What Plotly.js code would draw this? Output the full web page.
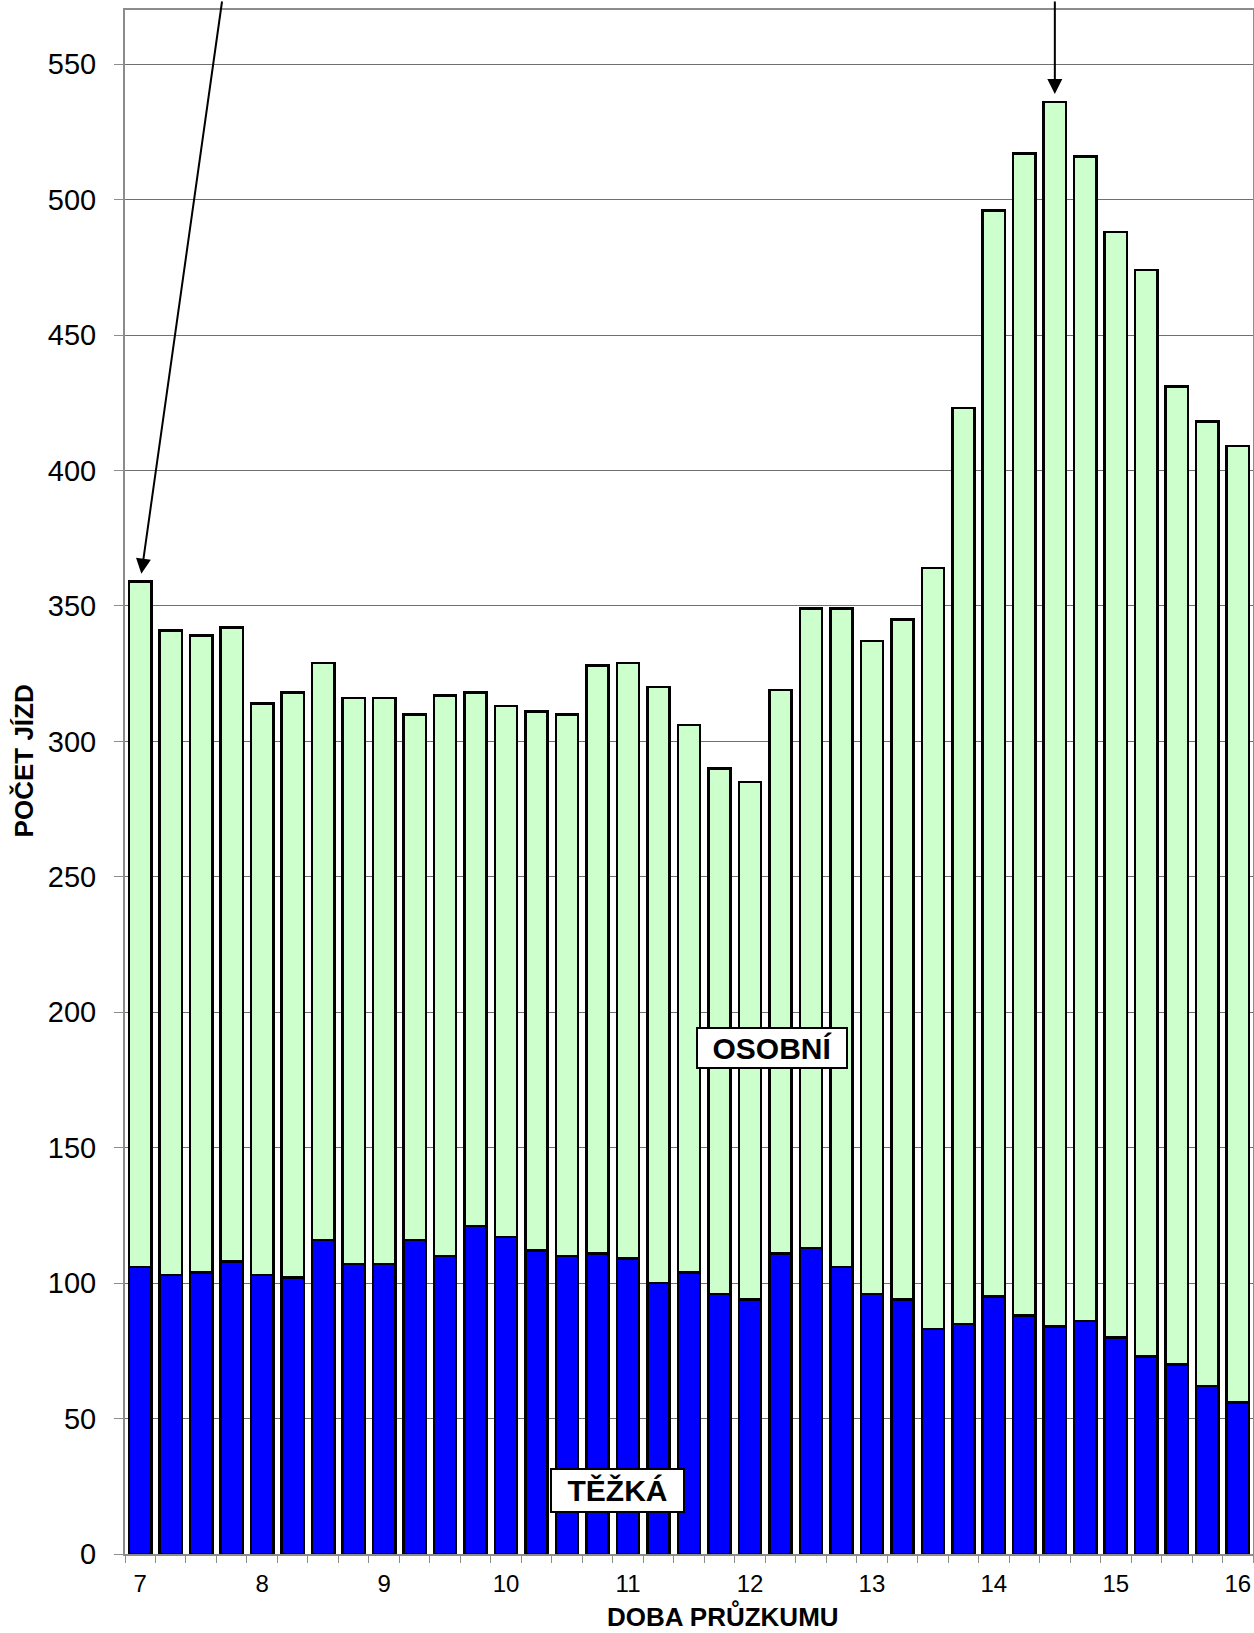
<!DOCTYPE html>
<html>
<head>
<meta charset="utf-8">
<script src="https://cdn.plot.ly/plotly-3.0.1.min.js"></script>
<style>
  html, body { margin: 0; padding: 0; background: #ffffff; }
  #chart { width: 1254px; height: 1633px; }
</style>
</head>
<body>
<div id="chart"></div>
<script>
// Time of survey (hours, 15-minute steps)
const times = [7, 7.25, 7.5, 7.75, 8, 8.25, 8.5, 8.75, 9, 9.25, 9.5, 9.75,
               10, 10.25, 10.5, 10.75, 11, 11.25, 11.5, 11.75, 12, 12.25, 12.5, 12.75,
               13, 13.25, 13.5, 13.75, 14, 14.25, 14.5, 14.75, 15, 15.25, 15.5, 15.75, 16];

// Heavy vehicles (TĚŽKÁ)
const tezka = [106, 103, 104, 108, 103, 102, 116, 107, 107, 116, 110, 121,
               117, 112, 110, 111, 109, 100, 104, 96, 94, 111, 113, 106,
               96, 94, 83, 85, 95, 88, 84, 86, 80, 73, 70, 62, 56];

// Passenger vehicles (OSOBNÍ)
const osobni = [253, 238, 235, 234, 211, 216, 213, 209, 209, 194, 207, 197,
                196, 199, 200, 217, 220, 220, 202, 194, 191, 208, 236, 243,
                241, 251, 281, 338, 401, 429, 452, 430, 408, 401, 361, 356, 353];

// Axis tick labels
const hourTicks = [7, 8, 9, 10, 11, 12, 13, 14, 15, 16];
const hourLabels = ['7', '8', '9', '10', '11', '12', '13', '14', '15', '16'];
const yTicks = [0, 50, 100, 150, 200, 250, 300, 350, 400, 450, 500, 550];

// Peak markers (arrow targets)
const peakTimes = [7, 14.5];
const peakTotals = [359, 536];

const FONT = 'Liberation Sans, Arial, Helvetica, sans-serif';

const traces = [
  {
    type: 'bar',
    name: 'TĚŽKÁ',
    x: times,
    y: tezka,
    marker: { color: '#0000FF', line: { color: '#000000', width: 2.5 } },
    hoverinfo: 'x+y+name'
  },
  {
    type: 'bar',
    name: 'OSOBNÍ',
    x: times,
    y: osobni,
    marker: { color: '#CCFFCC', line: { color: '#000000', width: 2.5 } },
    hoverinfo: 'x+y+name'
  }
];

const layout = {
  width: 1254,
  height: 1633,
  margin: { l: 125, r: 1, t: 10, b: 79, pad: 0 },
  paper_bgcolor: '#ffffff',
  plot_bgcolor: '#ffffff',
  barmode: 'stack',
  bargap: 0.27,
  showlegend: false,
  font: { family: FONT, color: '#000000' },
  xaxis: {
    type: 'linear',
    range: [6.875, 16.125],
    tickmode: 'array',
    tickvals: hourTicks,
    ticktext: hourLabels,
    ticks: '',
    ticklabelstandoff: 7,
    tickfont: { family: FONT, size: 24, color: '#000000' },
    showgrid: false,
    zeroline: false,
    showline: true,
    linecolor: '#8c8c8c',
    linewidth: 2,
    mirror: true,
    minor: {
      tick0: 6.875,
      dtick: 0.25,
      ticks: 'outside',
      ticklen: 7,
      tickwidth: 1,
      tickcolor: '#8c8c8c',
      showgrid: false
    }
  },
  yaxis: {
    range: [0, 570],
    tickmode: 'array',
    tickvals: yTicks,
    ticks: 'outside',
    ticklen: 9,
    tickwidth: 1,
    tickcolor: '#8c8c8c',
    ticklabelstandoff: 12,
    tickfont: { family: FONT, size: 29, color: '#000000' },
    showgrid: true,
    gridcolor: '#707070',
    gridwidth: 1,
    zeroline: false,
    showline: true,
    linecolor: '#8c8c8c',
    linewidth: 2,
    mirror: true
  },
  annotations: [
    {
      xref: 'paper', yref: 'paper',
      x: 0.5298, y: -0.0512,
      xanchor: 'center', yanchor: 'bottom',
      text: '<b>DOBA PRŮZKUMU</b>',
      showarrow: false,
      borderpad: 0,
      font: { family: FONT, size: 26, color: '#000000' }
    },
    {
      xref: 'paper', yref: 'paper',
      x: -0.0892, y: 0.5136,
      xanchor: 'center', yanchor: 'middle',
      textangle: -90,
      text: '<b>POČET JÍZD</b>',
      showarrow: false,
      font: { family: FONT, size: 26, color: '#000000' }
    },
    {
      xref: 'x', yref: 'y',
      x: 12.18, y: 186.8,
      xanchor: 'center', yanchor: 'middle',
      text: '<b>OSOBNÍ</b>',
      showarrow: false,
      width: 148, height: 38,
      bgcolor: '#ffffff',
      bordercolor: '#000000',
      borderwidth: 2,
      borderpad: 0,
      font: { family: FONT, size: 30, color: '#000000' }
    },
    {
      xref: 'x', yref: 'y',
      x: 10.915, y: 23.4,
      xanchor: 'center', yanchor: 'middle',
      text: '<b>TĚŽKÁ</b>',
      showarrow: false,
      width: 131, height: 41,
      bgcolor: '#ffffff',
      bordercolor: '#000000',
      borderwidth: 2,
      borderpad: 0,
      font: { family: FONT, size: 30, color: '#000000' }
    },
    {
      xref: 'x', yref: 'y',
      x: peakTimes[0], y: peakTotals[0],
      ax: 82, ay: -590,
      axref: 'pixel', ayref: 'pixel',
      text: '',
      showarrow: true,
      arrowhead: 2,
      arrowsize: 1.5,
      arrowwidth: 2,
      arrowcolor: '#000000',
      standoff: 8
    },
    {
      xref: 'x', yref: 'y',
      x: peakTimes[1], y: peakTotals[1],
      ax: 0, ay: -110,
      axref: 'pixel', ayref: 'pixel',
      text: '',
      showarrow: true,
      arrowhead: 2,
      arrowsize: 1.5,
      arrowwidth: 2,
      arrowcolor: '#000000',
      standoff: 8
    }
  ]
};

Plotly.newPlot('chart', traces, layout, { displayModeBar: false, staticPlot: true });
</script>
</body>
</html>
